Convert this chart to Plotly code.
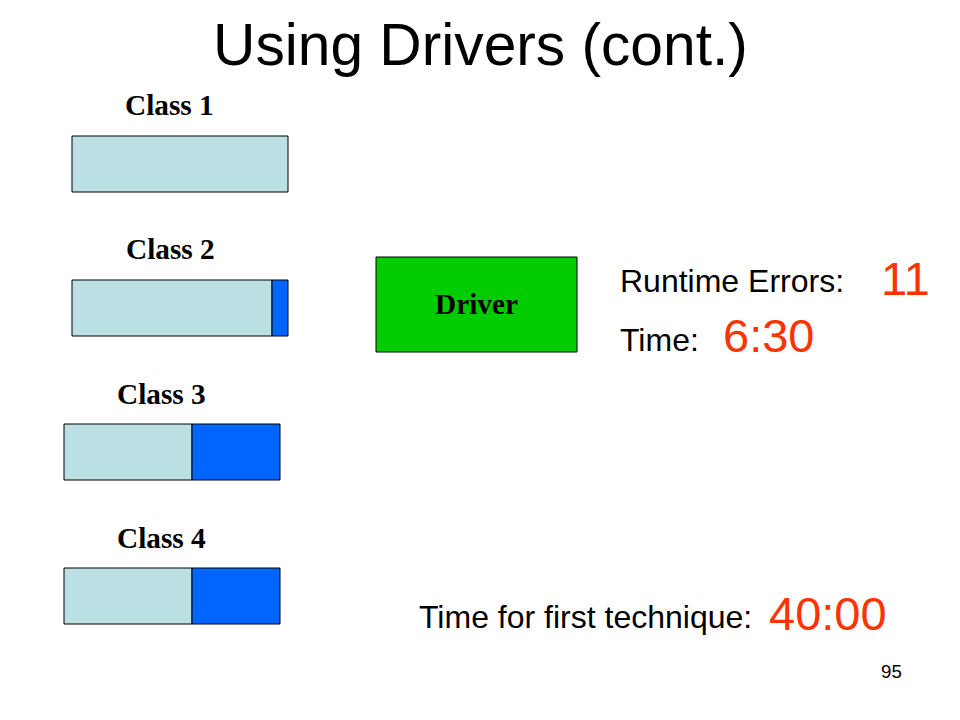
import plotly.graph_objects as go

# ---- data ----
classes = ["Class 1", "Class 2", "Class 3", "Class 4"]
bar_start = [72, 72, 64, 64]          # left edge of each bar
done_width = [216, 200, 128, 128]     # light segment length
extra_width = [0, 16, 88, 88]         # blue segment length
bar_center_y = [164, 308, 452, 596]
label_x = [169, 170, 161.5, 161.5]
label_y = [104.5, 249, 394, 538]

title = "Using Drivers (cont.)"
runtime_errors = "11"
driver_time = "6:30"
first_technique_time = "40:00"
page_number = "95"

LIGHT = "#BBE0E3"
BLUE = "#0066FF"
RED = "#FF3300"
GREEN = "#00CC00"
SANS = "Liberation Sans, Arial, sans-serif"
SERIF = "Liberation Serif, Times New Roman, serif"

OFF = 8  # page body margin compensation

fig = go.Figure()

fig.add_trace(go.Bar(
    orientation="h", y=bar_center_y, x=done_width, base=bar_start,
    width=56, marker=dict(color=LIGHT, line=dict(color="black", width=1)),
    showlegend=False, hoverinfo="skip"))

extra_base = [s + d for s, d in zip(bar_start, done_width)]
fig.add_trace(go.Bar(
    orientation="h", y=bar_center_y,
    x=[w if w > 0 else None for w in extra_width], base=extra_base,
    width=56, marker=dict(color=BLUE, line=dict(color="black", width=1)),
    showlegend=False, hoverinfo="skip"))

# Driver box
fig.add_shape(type="rect", x0=376, x1=577, y0=257, y1=352,
              fillcolor=GREEN, line=dict(color="black", width=1), layer="above")

ann = []
ann.append(dict(x=480, y=44, text=title, font=dict(family=SANS, size=58.7, color="black"),
                xanchor="center", yanchor="middle"))
for c, x, y in zip(classes, label_x, label_y):
    ann.append(dict(x=x, y=y, text="<b>%s</b>" % c,
                    font=dict(family=SERIF, size=29.3, color="black"),
                    xanchor="center", yanchor="middle"))
ann.append(dict(x=476, y=304, text="<b>Driver</b>",
                font=dict(family=SERIF, size=29.3, color="black"),
                xanchor="center", yanchor="middle"))
ann.append(dict(x=618, y=281, text="Runtime Errors:",
                font=dict(family=SANS, size=32, color="black"),
                xanchor="left", yanchor="middle"))
ann.append(dict(x=879, y=278, text=runtime_errors,
                font=dict(family=SANS, size=47, color=RED),
                xanchor="left", yanchor="middle"))
ann.append(dict(x=618, y=340, text="Time:",
                font=dict(family=SANS, size=32, color="black"),
                xanchor="left", yanchor="middle"))
ann.append(dict(x=721, y=335, text=driver_time,
                font=dict(family=SANS, size=47, color=RED),
                xanchor="left", yanchor="middle"))
ann.append(dict(x=417, y=617, text="Time for first technique:",
                font=dict(family=SANS, size=32, color="black"),
                xanchor="left", yanchor="middle"))
ann.append(dict(x=767, y=613, text=first_technique_time,
                font=dict(family=SANS, size=47, color=RED),
                xanchor="left", yanchor="middle"))
ann.append(dict(x=904, y=671, text=page_number,
                font=dict(family=SANS, size=18.7, color="black"),
                xanchor="right", yanchor="middle"))
for a in ann:
    a.update(xref="x", yref="y", showarrow=False)

fig.update_layout(
    width=960, height=720,
    margin=dict(l=0, r=0, t=0, b=0),
    paper_bgcolor="white", plot_bgcolor="white",
    barmode="overlay",
    xaxis=dict(range=[OFF, 960 + OFF], visible=False, fixedrange=True),
    yaxis=dict(range=[720 + OFF, OFF], visible=False, fixedrange=True),
    annotations=ann,
)

fig.write_html("out.html")
